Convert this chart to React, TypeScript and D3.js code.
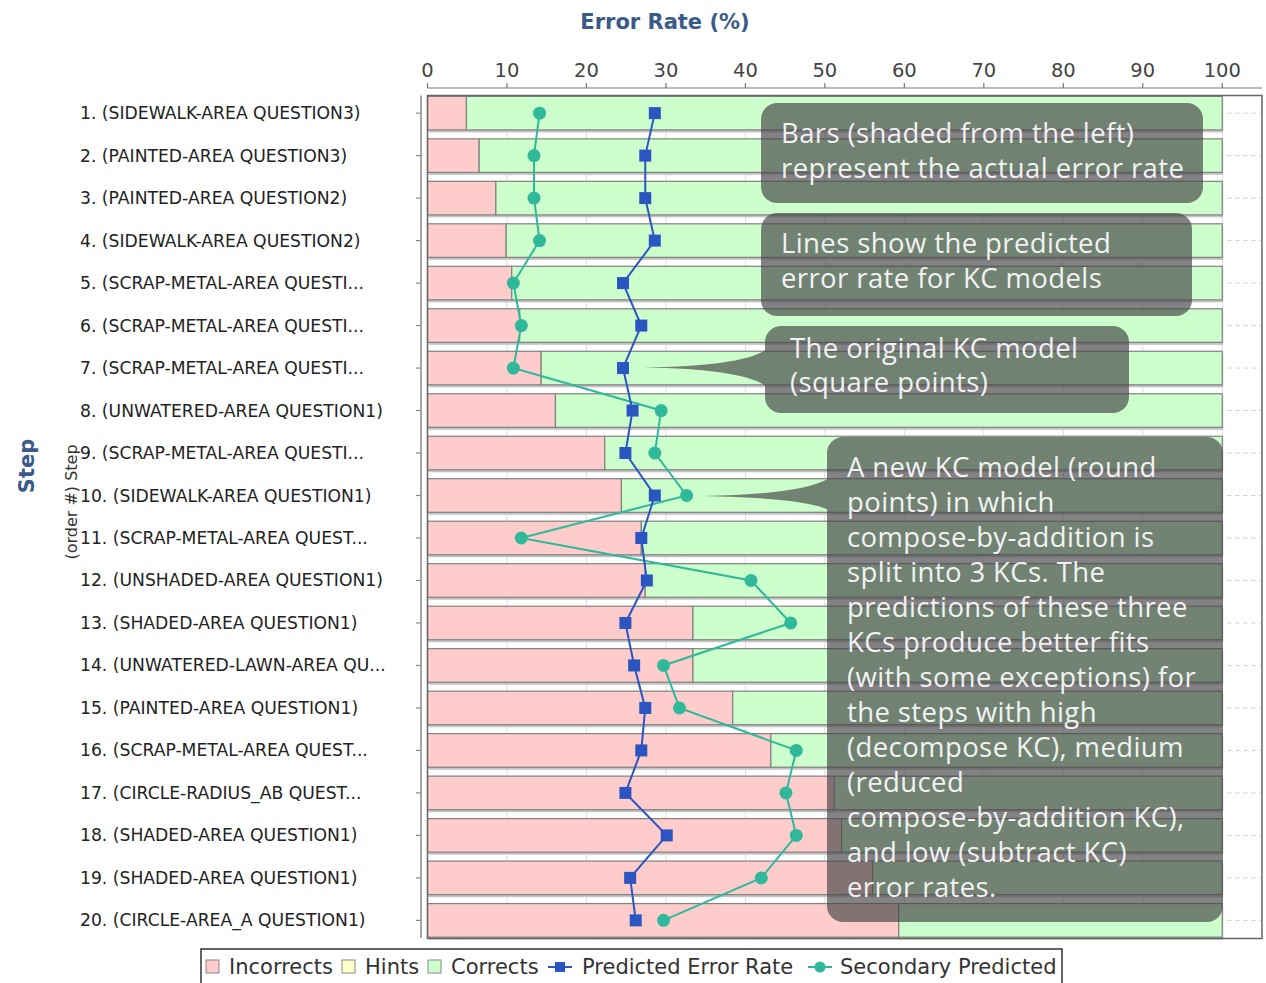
import React from "react";
import * as d3 from "d3";

const steps = [
  "1. (SIDEWALK-AREA QUESTION3)",
  "2. (PAINTED-AREA QUESTION3)",
  "3. (PAINTED-AREA QUESTION2)",
  "4. (SIDEWALK-AREA QUESTION2)",
  "5. (SCRAP-METAL-AREA QUESTI...",
  "6. (SCRAP-METAL-AREA QUESTI...",
  "7. (SCRAP-METAL-AREA QUESTI...",
  "8. (UNWATERED-AREA QUESTION1)",
  "9. (SCRAP-METAL-AREA QUESTI...",
  "10. (SIDEWALK-AREA QUESTION1)",
  "11. (SCRAP-METAL-AREA QUEST...",
  "12. (UNSHADED-AREA QUESTION1)",
  "13. (SHADED-AREA QUESTION1)",
  "14. (UNWATERED-LAWN-AREA QU...",
  "15. (PAINTED-AREA QUESTION1)",
  "16. (SCRAP-METAL-AREA QUEST...",
  "17. (CIRCLE-RADIUS_AB QUEST...",
  "18. (SHADED-AREA QUESTION1)",
  "19. (SHADED-AREA QUESTION1)",
  "20. (CIRCLE-AREA_A QUESTION1)",
];

const incorrects = [4.9, 6.5, 8.6, 9.9, 10.6, 11.6, 14.3, 16.1, 22.3, 24.4, 26.9, 27.4, 33.4, 33.4, 38.4, 43.2, 51.2, 52.1, 56.0, 59.3];
const hints = [0, 0, 0, 0, 0, 0, 0, 0, 0, 0, 0, 0, 0, 0, 0, 0, 0, 0, 0, 0];
const corrects = [95.1, 93.5, 91.4, 90.1, 89.4, 88.4, 85.7, 83.9, 77.7, 75.6, 73.1, 72.6, 66.6, 66.6, 61.6, 56.8, 48.8, 47.9, 44.0, 40.7];
const predicted = [28.6, 27.4, 27.4, 28.6, 24.6, 26.9, 24.6, 25.8, 24.9, 28.6, 26.9, 27.6, 24.9, 26.0, 27.4, 26.9, 24.9, 30.1, 25.5, 26.2];
const secondary = [14.1, 13.4, 13.4, 14.1, 10.8, 11.8, 10.8, 29.4, 28.6, 32.6, 11.8, 40.7, 45.7, 29.7, 31.7, 46.4, 45.1, 46.4, 42.0, 29.7];
const xTicks = [0, 10, 20, 30, 40, 50, 60, 70, 80, 90, 100];

const legendItems = ["Incorrects", "Hints", "Corrects", "Predicted Error Rate", "Secondary Predicted"];

const note1 = ["Bars (shaded from the left)", "represent the actual error rate"];
const note2 = ["Lines show the predicted", "error rate for KC models"];
const note3 = ["The original KC model", "(square points)"];
const note4 = [
  "A new KC model (round",
  "points) in which",
  "compose-by-addition is",
  "split into 3 KCs. The",
  "predictions of these three",
  "KCs produce better fits",
  "(with some exceptions) for",
  "the steps with high",
  "(decompose KC), medium",
  "(reduced",
  "compose-by-addition KC),",
  "and low (subtract KC)",
  "error rates.",
];

const C_INC = "#ffcccc";
const C_HINT = "#ffffcc";
const C_COR = "#ccffcc";
const C_BLUE = "#2b55c1";
const C_GREEN = "#2fb99a";
const TITLE_BLUE = "#3a5a8a";
const FONT = "'DejaVu Sans', sans-serif";
const NOTE_FONT = "'Open Sans', sans-serif";

export default function App() {
  const W = 1266;
  const H = 983;
  const x0 = 427.5;
  const x1 = 1262;
  const yTop = 95.5;
  const yBot = 938;

  const x = d3.scaleLinear().domain([0, 105]).range([x0, x1]);
  const y = d3.scaleBand<string>().domain(steps).range([yTop, yBot]).paddingInner(0.21).paddingOuter(0.02);
  const bw = y.bandwidth();
  const cy = (i: number) => (y(steps[i]) as number) + bw / 2;

  const predLine = d3.line<number>().x((d) => x(d)).y((_, i) => cy(i))(predicted) as string;
  const secLine = d3.line<number>().x((d) => x(d)).y((_, i) => cy(i))(secondary) as string;

  const noteFill = "rgb(70,70,72)";
  const noteOpacity = 0.67;
  const noteTextSize = 27.5;
  const legendSize = 21;

  return (
    <svg width={W} height={H} style={{ display: "block", position: "absolute", left: 0, top: 0 }} fontFamily={FONT}>
      <rect x={0} y={0} width={W} height={H} fill="#fff" />
      {/* title */}
      <text x={665} y={29} textAnchor="middle" fontSize={21} fontWeight="bold" fill={TITLE_BLUE}>
        Error Rate (%)
      </text>
      {/* top axis */}
      <line x1={x0} x2={x1} y1={88} y2={88} stroke="#777" strokeWidth={1.2} />
      {xTicks.map((t) => (
        <g key={t}>
          <line x1={x(t)} x2={x(t)} y1={83} y2={88} stroke="#777" strokeWidth={1.2} />
          <text x={x(t)} y={77} textAnchor="middle" fontSize={19.5} fill="#444">
            {t}
          </text>
        </g>
      ))}
      {/* left axis */}
      <line x1={421} x2={421} y1={yTop} y2={yBot} stroke="#888" strokeWidth={1.5} />
      {steps.map((s, i) => (
        <g key={s + i}>
          <line x1={416} x2={421} y1={cy(i)} y2={cy(i)} stroke="#888" strokeWidth={1.2} />
          <text x={80} y={cy(i)} dy="0.35em" fontSize={17.2} fill="#222">
            {s}
          </text>
        </g>
      ))}
      {/* axis titles */}
      <text transform="translate(34,466) rotate(-90)" textAnchor="middle" fontSize={21} fontWeight="bold" fill={TITLE_BLUE}>
        Step
      </text>
      <text transform="translate(77,502) rotate(-90)" textAnchor="middle" fontSize={16} fill="#333">
        (order #) Step
      </text>
      {/* plot background & gridlines */}
      <rect x={x0} y={yTop} width={x1 - x0} height={yBot - yTop} fill="#fff" />
      {xTicks.map((t) => (
        <line key={"g" + t} x1={x(t)} x2={x(t)} y1={yTop} y2={yBot} stroke="#ddd" strokeWidth={1} />
      ))}
      {steps.map((s, i) => (
        <line key={"h" + i} x1={x0} x2={x1} y1={cy(i)} y2={cy(i)} stroke="#ccc" strokeDasharray="4,4" strokeWidth={1} />
      ))}
      {/* bars */}
      {steps.map((s, i) => {
        const by = y(s) as number;
        const total = incorrects[i] + hints[i] + corrects[i];
        return (
          <g key={"b" + i}>
            <rect x={x(0) + 1} y={by + 2.5} width={x(total) - x(0)} height={bw} fill="#c4c4c4" />
            <rect x={x(0)} y={by} width={x(incorrects[i]) - x(0)} height={bw} fill={C_INC} stroke="#808080" strokeWidth={1.2} />
            {hints[i] > 0 && (
              <rect x={x(incorrects[i])} y={by} width={x(incorrects[i] + hints[i]) - x(incorrects[i])} height={bw} fill={C_HINT} stroke="#808080" strokeWidth={1.2} />
            )}
            <rect x={x(incorrects[i] + hints[i])} y={by} width={x(total) - x(incorrects[i] + hints[i])} height={bw} fill={C_COR} stroke="#808080" strokeWidth={1.2} />
          </g>
        );
      })}
      {/* frame */}
      <rect x={x0} y={yTop} width={x1 - x0} height={yBot - yTop + 0.5} fill="none" stroke="#666" strokeWidth={1.5} />
      {/* lines */}
      <path d={secLine} fill="none" stroke={C_GREEN} strokeWidth={2} />
      <path d={predLine} fill="none" stroke={C_BLUE} strokeWidth={2} />
      {secondary.map((v, i) => (
        <circle key={"c" + i} cx={x(v)} cy={cy(i)} r={6.5} fill={C_GREEN} />
      ))}
      {predicted.map((v, i) => (
        <rect key={"s" + i} x={x(v) - 6} y={cy(i) - 6} width={12} height={12} fill={C_BLUE} />
      ))}
      {/* annotations */}
      <g opacity={noteOpacity}>
        <rect x={761} y={103} width={442} height={100} rx={16} fill={noteFill} />
        <rect x={761} y={213} width={431} height={103} rx={16} fill={noteFill} />
        <rect x={765} y={326} width={364} height={87} rx={16} fill={noteFill} />
        <path d="M 643,367.5 Q 745,366 767,349 L 767,387 Q 745,369 643,367.5 Z" fill={noteFill} />
        <rect x={827} y={437} width={396} height={485} rx={16} fill={noteFill} />
        <path d="M 703,496 Q 805,494 829,478 L 829,510 Q 805,498 703,496 Z" fill={noteFill} />
      </g>
      <g fontFamily={NOTE_FONT} fontSize={noteTextSize} letterSpacing={0.4} fill="#fff" opacity={0.9}>
        {note1.map((t, i) => (
          <text key={"n1" + i} x={781} y={143 + i * 35}>{t}</text>
        ))}
        {note2.map((t, i) => (
          <text key={"n2" + i} x={781} y={253 + i * 35}>{t}</text>
        ))}
        {note3.map((t, i) => (
          <text key={"n3" + i} x={790} y={358 + i * 34}>{t}</text>
        ))}
        {note4.map((t, i) => (
          <text key={"n4" + i} x={847} y={477 + i * 35}>{t}</text>
        ))}
      </g>
      {/* legend */}
      <rect x={201} y={949} width={861} height={40} fill="#fff" stroke="#333" strokeWidth={1.5} />
      <rect x={206} y={960} width={13} height={13} fill={C_INC} stroke="#888" />
      <text x={229} y={967} dy="0.35em" fontSize={legendSize} fill="#333">{legendItems[0]}</text>
      <rect x={342} y={960} width={13} height={13} fill={C_HINT} stroke="#888" />
      <text x={365} y={967} dy="0.35em" fontSize={legendSize} fill="#333">{legendItems[1]}</text>
      <rect x={428} y={960} width={13} height={13} fill={C_COR} stroke="#888" />
      <text x={451} y={967} dy="0.35em" fontSize={legendSize} fill="#333">{legendItems[2]}</text>
      <line x1={548} x2={572} y1={967} y2={967} stroke={C_BLUE} strokeWidth={2} />
      <rect x={555} y={962} width={10} height={10} fill={C_BLUE} />
      <text x={582} y={967} dy="0.35em" fontSize={legendSize} fill="#333">{legendItems[3]}</text>
      <line x1={808} x2={832} y1={967} y2={967} stroke={C_GREEN} strokeWidth={2} />
      <circle cx={820} cy={967} r={5.5} fill={C_GREEN} />
      <text x={840} y={967} dy="0.35em" fontSize={legendSize} fill="#333">{legendItems[4]}</text>
    </svg>
  );
}
